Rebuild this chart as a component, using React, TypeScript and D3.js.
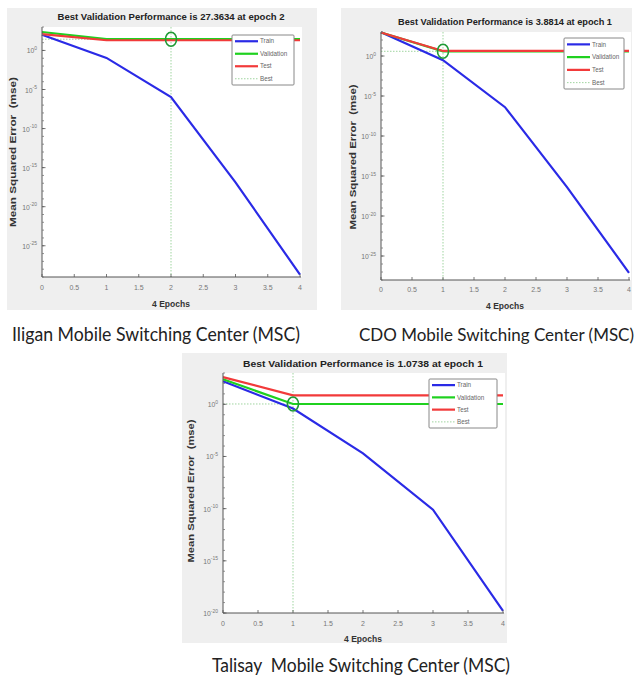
import React from "react";
import * as d3 from "d3";

const epochs = [0, 1, 2, 3, 4];
const xTicks = [0, 0.5, 1, 1.5, 2, 2.5, 3, 3.5, 4];
const seriesNames = ["Train", "Validation", "Test", "Best"];

// Iligan MSC
const iliganTrain = [1.0e2, 1.1e-1, 1.1e-6, 1.3e-17, 2.0e-29];
const iliganValidation = [2.3e2, 27.3634, 27.3634, 27.3634, 27.3634];
const iliganTest = [1.25e2, 20, 20, 20, 20];
const iliganBest = { epoch: 2, value: 27.3634 };
const iliganYTicks = [0, -5, -10, -15, -20, -25];

// CDO MSC
const cdoTrain = [9.0e2, 3.0e-1, 4.0e-7, 4.0e-17, 8.0e-28];
const cdoValidation = [8.5e2, 3.8814, 3.8814, 3.8814, 3.8814];
const cdoTest = [8.8e2, 4.3, 4.3, 4.3, 4.3];
const cdoBest = { epoch: 1, value: 3.8814 };
const cdoYTicks = [0, -5, -10, -15, -20, -25];

// Talisay MSC
const talisayTrain = [1.6e2, 4.0e-1, 2.0e-5, 8.0e-11, 1.6e-20];
const talisayValidation = [2.5e2, 1.0738, 1.0738, 1.0738, 1.0738];
const talisayTest = [4.0e2, 7.3, 7.3, 7.3, 7.3];
const talisayBest = { epoch: 1, value: 1.0738 };
const talisayYTicks = [0, -5, -10, -15, -20];

const C_TRAIN = "#2a2ae6";
const C_VAL = "#1fd11f";
const C_TEST = "#f23a3a";
const C_BEST = "#9fd49f";

type Cfg = {
  title: string;
  titleLen: number;
  titleSize: number;
  caption: string;
  capX0: number;
  capX1: number;
  capY: number;
  capSize: number;
  bg: [number, number, number, number];
  plot: [number, number, number, number];
  yExp: [number, number];
  yTicks: number[];
  train: number[];
  val: number[];
  test: number[];
  best: { epoch: number; value: number };
  legend: [number, number, number, number];
  yLabel: [number, number, number];
  titleY: number;
  xTickY: number;
  xLabelY: number;
};

function Panel({ c }: { c: Cfg }) {
  const [px0, py0, px1, py1] = c.plot;
  const x = d3.scaleLinear().domain([0, 4]).range([px0, px1]);
  const y = d3
    .scaleLog()
    .domain([Math.pow(10, c.yExp[0]), Math.pow(10, c.yExp[1])])
    .range([py1, py0]);
  const line = d3
    .line<number>()
    .x((_, i) => x(epochs[i]))
    .y((d) => y(d));
  const minor = d3.range(Math.ceil(c.yExp[0]), Math.floor(c.yExp[1]) + 1);
  const [lx0, ly0, lx1, ly1] = c.legend;
  const lh = (ly1 - ly0) / 4;
  const legendColors = [C_TRAIN, C_VAL, C_TEST, C_BEST];
  const cx = (px0 + px1) / 2;
  return (
    <g>
      <rect x={c.bg[0]} y={c.bg[1]} width={c.bg[2] - c.bg[0]} height={c.bg[3] - c.bg[1]} fill="#efefef" />
      <rect x={px0} y={py0} width={px1 - px0 + 2} height={py1 - py0} fill="#ffffff" />
      <line x1={x(c.best.epoch)} x2={x(c.best.epoch)} y1={py0} y2={py1} stroke={C_BEST} strokeWidth={1} strokeDasharray="1.5,1.5" />
      <line x1={px0} x2={px1} y1={y(c.best.value)} y2={y(c.best.value)} stroke={C_BEST} strokeWidth={1} strokeDasharray="1.5,1.5" />
      <path d={line(c.train) || ""} fill="none" stroke={C_TRAIN} strokeWidth={2.2} />
      <path d={line(c.val) || ""} fill="none" stroke={C_VAL} strokeWidth={2.2} />
      <path d={line(c.test) || ""} fill="none" stroke={C_TEST} strokeWidth={2.2} />
      <ellipse cx={x(c.best.epoch)} cy={y(c.best.value)} rx={5.5} ry={7} fill="none" stroke="#1f9a35" strokeWidth={1.6} />
      <line x1={px0} x2={px0} y1={py0} y2={py1} stroke="#555" strokeWidth={1} />
      <line x1={px0} x2={px1 + 1} y1={py1} y2={py1} stroke="#555" strokeWidth={1} />
      {minor.map((e) => (
        <line key={"m" + e} x1={px0} x2={px0 + 2} y1={y(Math.pow(10, e))} y2={y(Math.pow(10, e))} stroke="#777" strokeWidth={0.8} />
      ))}
      {c.yTicks.map((e) => (
        <g key={"y" + e}>
          <line x1={px0} x2={px0 + 3.5} y1={y(Math.pow(10, e))} y2={y(Math.pow(10, e))} stroke="#555" strokeWidth={0.8} />
          <text x={px0 - 5} y={y(Math.pow(10, e)) + 3} textAnchor="end" fontSize={6.8} fill="#777" fontFamily="Liberation Sans, Arial, sans-serif">
            10
            <tspan dy={-3.5} fontSize={5}>{e}</tspan>
          </text>
        </g>
      ))}
      {xTicks.map((t) => (
        <g key={"x" + t}>
          <line x1={x(t)} x2={x(t)} y1={py1} y2={py1 - 3} stroke="#555" strokeWidth={0.8} />
          <text x={x(t)} y={c.xTickY} dy="0.35em" textAnchor="middle" fontSize={7} fill="#777" fontFamily="Liberation Sans, Arial, sans-serif">
            {String(t)}
          </text>
        </g>
      ))}
      <text x={cx} y={c.xLabelY} dy="0.35em" textAnchor="middle" fontSize={8.5} fontWeight="bold" fill="#333" fontFamily="Liberation Sans, Arial, sans-serif">
        4 Epochs
      </text>
      <text
        transform={`translate(${c.yLabel[0]},${c.yLabel[1]}) rotate(-90)`}
        dy="0.35em"
        textAnchor="middle"
        fontSize={9.5}
        fontWeight="bold"
        fill="#333"
        textLength={c.yLabel[2]}
        lengthAdjust="spacingAndGlyphs"
        style={{ whiteSpace: "pre" }}
        fontFamily="Liberation Sans, Arial, sans-serif"
      >
        {"Mean Squared Error  (mse)"}
      </text>
      <text x={cx} y={c.titleY} dy="0.35em" textAnchor="middle" fontSize={c.titleSize} fontWeight="bold" fill="#222" textLength={c.titleLen} lengthAdjust="spacingAndGlyphs" fontFamily="Liberation Sans, Arial, sans-serif">
        {c.title}
      </text>
      <rect x={lx0} y={ly0} width={lx1 - lx0} height={ly1 - ly0} fill="#fff" stroke="#888" strokeWidth={1} rx={1} />
      {seriesNames.map((n, i) => {
        const yy = ly0 + lh * (i + 0.5);
        return (
          <g key={n}>
            <line
              x1={lx0 + 3}
              x2={lx0 + 26}
              y1={yy}
              y2={yy}
              stroke={legendColors[i]}
              strokeWidth={i === 3 ? 1 : 2.2}
              strokeDasharray={i === 3 ? "1.5,1.5" : undefined}
            />
            <text x={lx0 + 28} y={yy} dy="0.35em" fontSize={6.3} fill="#666" fontFamily="Liberation Sans, Arial, sans-serif">
              {n}
            </text>
          </g>
        );
      })}
      <text
        x={c.capX0}
        y={c.capY}
        fontSize={c.capSize}
        fill="#222"
        textLength={c.capX1 - c.capX0}
        lengthAdjust="spacingAndGlyphs"
        style={{ whiteSpace: "pre" }}
        fontFamily="Lato, Open Sans, sans-serif"
      >
        {c.caption}
      </text>
    </g>
  );
}

const panels: Cfg[] = [
  {
    title: "Best Validation Performance is 27.3634 at epoch 2",
    titleLen: 227,
    titleSize: 8.5,
    caption: "Iligan Mobile Switching Center (MSC)",
    capX0: 12,
    capX1: 300,
    capY: 341,
    capSize: 18.5,
    bg: [7, 8, 317, 310],
    plot: [42, 27, 300, 277],
    yExp: [-29, 3],
    yTicks: iliganYTicks,
    train: iliganTrain,
    val: iliganValidation,
    test: iliganTest,
    best: iliganBest,
    legend: [232, 35, 294, 85],
    yLabel: [13, 152, 150],
    titleY: 17,
    xTickY: 288,
    xLabelY: 304,
  },
  {
    title: "Best Validation Performance is 3.8814 at epoch 1",
    titleLen: 214,
    titleSize: 8.3,
    caption: "CDO Mobile Switching Center (MSC)",
    capX0: 359,
    capX1: 634,
    capY: 341,
    capSize: 17.5,
    bg: [341, 8, 632, 310],
    plot: [381, 32, 629, 280],
    yExp: [-28, 3],
    yTicks: cdoYTicks,
    train: cdoTrain,
    val: cdoValidation,
    test: cdoTest,
    best: cdoBest,
    legend: [564, 38, 624, 89],
    yLabel: [353, 157, 145],
    titleY: 22,
    xTickY: 290,
    xLabelY: 306,
  },
  {
    title: "Best Validation Performance is 1.0738 at epoch 1",
    titleLen: 240,
    titleSize: 9,
    caption: "Talisay  Mobile Switching Center (MSC)",
    capX0: 212,
    capX1: 510,
    capY: 672,
    capSize: 18.5,
    bg: [182, 353, 507, 643],
    plot: [223, 373, 503, 613],
    yExp: [-20, 3],
    yTicks: talisayYTicks,
    train: talisayTrain,
    val: talisayValidation,
    test: talisayTest,
    best: talisayBest,
    legend: [429, 379, 497, 428],
    yLabel: [191, 491, 143],
    titleY: 364,
    xTickY: 624,
    xLabelY: 639,
  },
];

export default function App() {
  return (
    <svg width={644} height={679} style={{ position: "absolute", left: 0, top: 0, background: "#fff" }}>
      <rect x={0} y={0} width={644} height={679} fill="#fff" />
      {panels.map((p, i) => (
        <Panel key={i} c={p} />
      ))}
    </svg>
  );
}
